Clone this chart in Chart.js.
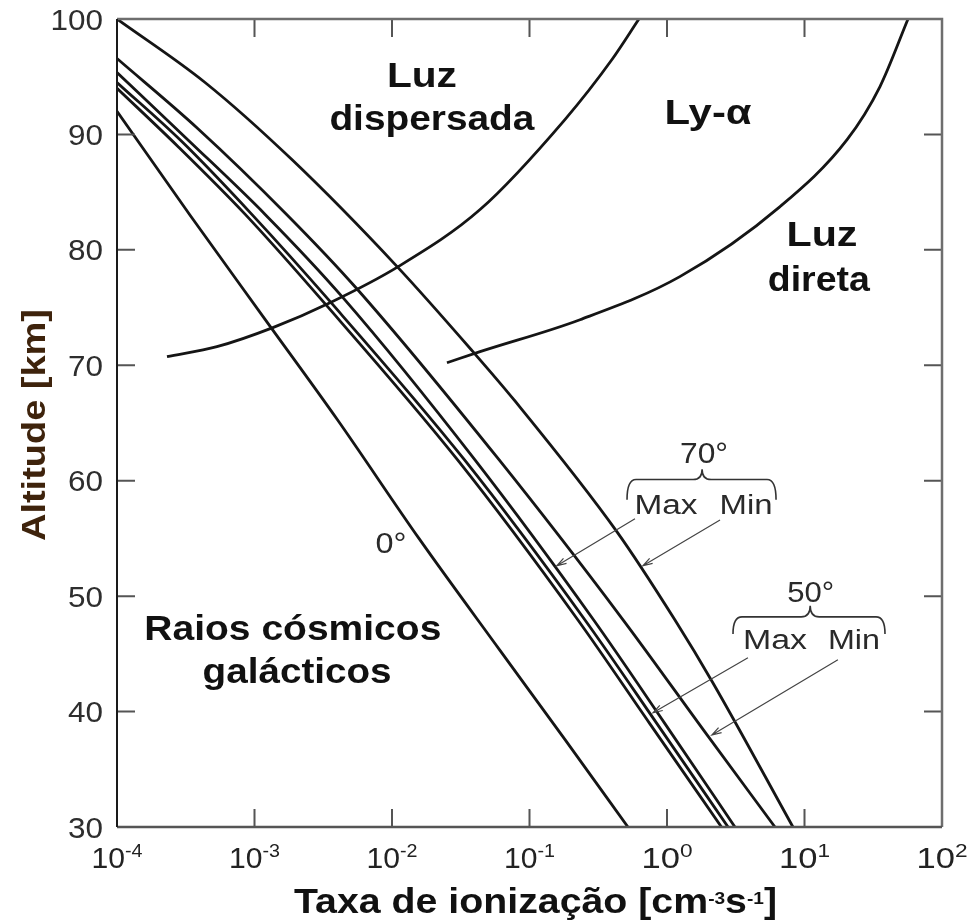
<!DOCTYPE html>
<html>
<head>
<meta charset="utf-8">
<script src="https://cdn.jsdelivr.net/npm/chart.js@4.4.0/dist/chart.umd.min.js"></script>
<style>
  html, body { margin: 0; padding: 0; background: #fff; }
  canvas { display: block; }
</style>
</head>
<body>
<canvas id="chart" width="973" height="924"></canvas>
<script>
// ticks
const xTicks = [1e-4, 1e-3, 1e-2, 1e-1, 1, 10, 100];
const xTickExp = ["-4", "-3", "-2", "-1", "0", "1", "2"];
const yTicks = [30, 40, 50, 60, 70, 80, 90, 100];

// galactic cosmic rays, 0 deg
const gcr0Alt  = [92.0, 83.0, 74.0, 65.3, 55.0, 45.3, 37.5, 30.0];
const gcr0Rate = [1.0e-4, 3.4e-4, 1.19e-3, 4.0e-3, 1.57e-2, 6.1e-2, 0.183, 0.52];

// close double pair
const gcrAAlt  = [94.0, 89.0, 83.05, 75.4, 61.8, 48.0, 39.0, 30.0];
const gcrARate = [1.0e-4, 2.75e-4, 8.6e-4, 3.22e-3, 3.0e-2, 0.223, 0.745, 2.49];
const gcrBAlt  = [94.5, 89.4, 83.05, 75.4, 61.8, 48.0, 39.0, 30.0];
const gcrBRate = [1.0e-4, 2.95e-4, 9.6e-4, 3.62e-3, 3.37e-2, 0.251, 0.84, 2.78];

const gcrCAlt  = [95.36, 89.5, 83.05, 75.86, 61.82, 47.95, 39.0, 30.0];
const gcrCRate = [1.0e-4, 3.3e-4, 1.2e-3, 4.4e-3, 4.0e-2, 0.292, 0.96, 3.12];

const gcrDAlt  = [96.58, 90.5, 83.05, 76.72, 61.82, 47.95, 38.0, 30.0];
const gcrDRate = [1.0e-4, 3.88e-4, 1.72e-3, 5.47e-3, 6.0e-2, 0.479, 1.95, 6.1];

const gcrEAlt  = [100, 94.5, 87.82, 78.55, 71.18, 67.02, 55.57, 47.95, 42.48, 30.0];
const gcrERate = [1.0e-4, 4.37e-4, 1.87e-3, 1.09e-2, 3.88e-2, 7.7e-2, 0.433, 1.14, 2.16, 8.24];

// scattered light (Luz dispersada / Ly-alpha boundary)
const scatAlt  = [70.74, 71.61, 73.26, 75.42, 78.55, 83.49, 91.29, 96.49, 100];
const scatRate = [2.31e-4, 5.33e-4, 1.36e-3, 3.54e-3, 1.11e-2, 4.37e-2, 0.181, 0.398, 0.625];

// direct light (Ly-alpha / Luz direta boundary)
const dirAlt  = [70.22, 71.18, 73.95, 77.68, 83.75, 89.55, 94.15, 100];
const dirRate = [2.51e-2, 4.37e-2, 0.233, 1.24, 6.64, 20.4, 35.4, 56.6];

const curves = [
  [gcr0Alt, gcr0Rate], [gcrAAlt, gcrARate], [gcrBAlt, gcrBRate],
  [gcrCAlt, gcrCRate], [gcrDAlt, gcrDRate], [gcrEAlt, gcrERate],
  [scatAlt, scatRate], [dirAlt, dirRate]
];

const FONT = "'Liberation Sans', Arial, Helvetica, sans-serif";

// annotations (rate, altitude)
const notes = [
  { t: "Luz", x: 0.0165, y: 94.1, bold: true, size: 35, w: 70 },
  { t: "dispersada", x: 0.0195, y: 90.4, bold: true, size: 35, w: 205 },
  { t: "Ly-\u03b1", x: 1.99, y: 90.9, bold: true, size: 35, w: 87 },
  { t: "Luz", x: 13.4, y: 80.3, bold: true, size: 35, w: 71 },
  { t: "direta", x: 12.7, y: 76.4, bold: true, size: 35, w: 102 },
  { t: "Raios cósmicos", x: 1.9e-3, y: 46.2, bold: true, size: 35, w: 297 },
  { t: "galácticos", x: 2.04e-3, y: 42.5, bold: true, size: 35, w: 189 },
  { t: "0°", x: 9.84e-3, y: 53.75, size: 29, w: 31 },
  { t: "70°", x: 1.86, y: 61.5, size: 29, w: 48 },
  { t: "Max", x: 0.984, y: 57.1, size: 27, w: 63 },
  { t: "Min", x: 3.76, y: 57.1, size: 27, w: 53 },
  { t: "50°", x: 11.1, y: 49.5, size: 29, w: 47 },
  { t: "Max", x: 6.1, y: 45.4, size: 27, w: 64 },
  { t: "Min", x: 22.9, y: 45.4, size: 27, w: 52 }
];
const braces = [
  { xl: 0.512, xc: 1.80, xr: 6.21, yTop: 60.1, yEnd: 58.35, yPeak: 61.0 },
  { xl: 3.02, xc: 11.0, xr: 38.5, yTop: 48.2, yEnd: 46.73, yPeak: 49.16 }
];
const arrows = [
  { x0: 0.585, y0: 56.7, x1: 0.158, y1: 52.63 },
  { x0: 2.43, y0: 56.6, x1: 0.668, y1: 52.63 },
  { x0: 3.88, y0: 44.66, x1: 0.791, y1: 39.9 },
  { x0: 17.5, y0: 44.49, x1: 2.12, y1: 37.97 }
];

function txt(ctx, s, x, y, size, bold, color, w, align) {
  ctx.save();
  ctx.font = (bold ? "bold " : "") + size + "px " + FONT;
  ctx.fillStyle = color;
  ctx.textAlign = align || "center";
  ctx.textBaseline = "alphabetic";
  let sx = w ? w / ctx.measureText(s).width : 1;
  ctx.translate(x, y);
  ctx.scale(sx, 1);
  ctx.fillText(s, 0, 0);
  ctx.restore();
}

// text with superscripts, centred at x
function richTxt(ctx, parts, x, y, size, supSize, rise, bold, color, w) {
  ctx.save();
  const f = s => (bold ? "bold " : "") + s + "px " + FONT;
  let total = 0;
  parts.forEach(p => {
    ctx.font = f(p.sup ? supSize : size);
    p.w = ctx.measureText(p.t).width;
    total += p.w;
  });
  let sx = w ? w / total : 1;
  ctx.translate(x, y);
  ctx.scale(sx, 1);
  ctx.fillStyle = color;
  ctx.textAlign = "left";
  ctx.textBaseline = "alphabetic";
  let cx = -total / 2;
  parts.forEach(p => {
    ctx.font = f(p.sup ? supSize : size);
    ctx.fillText(p.t, cx, p.sup ? -rise : 0);
    cx += p.w;
  });
  ctx.restore();
}

const framePlugin = {
  id: "frame",
  afterDraw(chart) {
    const ctx = chart.ctx;
    const a = chart.chartArea;
    const xs = chart.scales.x, ys = chart.scales.y;
    const px = v => xs.getPixelForValue(v);
    const py = v => ys.getPixelForValue(v);

    ctx.save();
    // inward ticks
    ctx.strokeStyle = "#555";
    ctx.lineWidth = 2;
    ctx.beginPath();
    xTicks.slice(1, -1).forEach(v => {
      const x = px(v);
      ctx.moveTo(x, a.bottom); ctx.lineTo(x, a.bottom - 18);
      ctx.moveTo(x, a.top); ctx.lineTo(x, a.top + 18);
    });
    yTicks.slice(1, -1).forEach(v => {
      const y = py(v);
      ctx.moveTo(a.left, y); ctx.lineTo(a.left + 18, y);
      ctx.moveTo(a.right, y); ctx.lineTo(a.right - 18, y);
    });
    ctx.stroke();

    // frame
    ctx.lineWidth = 2.5;
    ctx.strokeStyle = "#6e6e6e";
    ctx.beginPath();
    ctx.moveTo(a.left, a.top); ctx.lineTo(a.right, a.top); ctx.lineTo(a.right, a.bottom);
    ctx.stroke();
    ctx.strokeStyle = "#555";
    ctx.beginPath();
    ctx.moveTo(a.left, a.bottom); ctx.lineTo(a.right, a.bottom);
    ctx.stroke();
    ctx.lineWidth = 2;
    ctx.strokeStyle = "#1a1a1a";
    ctx.beginPath();
    ctx.moveTo(a.left, a.top); ctx.lineTo(a.left, a.bottom);
    ctx.stroke();

    // y tick labels
    yTicks.forEach(v => {
      const s = String(v);
      txt(ctx, s, a.left - 14, py(v) + 10.5, 29, false, "#2e2e2e", s.length * 17.5, "right");
    });

    // x tick labels 10^n
    xTicks.forEach((v, i) => {
      richTxt(ctx, [{ t: "10" }, { t: xTickExp[i], sup: true }], px(v), a.bottom + 41, 29, 19, 11, false, "#222", 51);
    });

    // axis titles
    richTxt(ctx, [{ t: "Taxa de ionização [cm" }, { t: "-3", sup: true }, { t: "s" }, { t: "-1", sup: true }, { t: "]" }],
      (a.left + a.right) / 2 + 6, a.bottom + 86, 35, 17, 9, true, "#111", 483);
    ctx.save();
    ctx.translate(45, (a.top + a.bottom) / 2 + 2);
    ctx.rotate(-Math.PI / 2);
    txt(ctx, "Altitude [km]", 0, 0, 34, true, "#3e230c", 232);
    ctx.restore();

    // labels
    notes.forEach(n => txt(ctx, n.t, px(n.x), py(n.y), n.size, n.bold, n.bold ? "#111" : "#2a2a2a", n.w));

    // braces
    ctx.strokeStyle = "#333";
    ctx.lineWidth = 1.6;
    braces.forEach(b => {
      const xl = px(b.xl), xc = px(b.xc), xr = px(b.xr);
      const yt = py(b.yTop), ye = py(b.yEnd), yp = py(b.yPeak);
      ctx.beginPath();
      ctx.moveTo(xl, ye);
      ctx.quadraticCurveTo(xl, yt, xl + 9, yt);
      ctx.lineTo(xc - 9, yt);
      ctx.quadraticCurveTo(xc, yt, xc, yp);
      ctx.quadraticCurveTo(xc, yt, xc + 9, yt);
      ctx.lineTo(xr - 9, yt);
      ctx.quadraticCurveTo(xr, yt, xr, ye);
      ctx.stroke();
    });

    // arrows
    ctx.strokeStyle = "#444";
    ctx.lineWidth = 1.2;
    arrows.forEach(r => {
      const x0 = px(r.x0), y0 = py(r.y0), x1 = px(r.x1), y1 = py(r.y1);
      const ang = Math.atan2(y1 - y0, x1 - x0);
      ctx.beginPath();
      ctx.moveTo(x0, y0); ctx.lineTo(x1, y1);
      ctx.moveTo(x1 - 10 * Math.cos(ang - 0.3), y1 - 10 * Math.sin(ang - 0.3));
      ctx.lineTo(x1, y1);
      ctx.lineTo(x1 - 10 * Math.cos(ang + 0.3), y1 - 10 * Math.sin(ang + 0.3));
      ctx.stroke();
    });
    ctx.restore();
  }
};

new Chart(document.getElementById("chart"), {
  type: "scatter",
  data: {
    datasets: curves.map(c => ({
      data: c[0].map((alt, i) => ({ x: c[1][i], y: alt })),
      showLine: true,
      borderColor: "#151515",
      borderWidth: 2.8,
      pointRadius: 0,
      cubicInterpolationMode: "monotone",
      fill: false
    }))
  },
  options: {
    responsive: false,
    animation: false,
    devicePixelRatio: 1,
    layout: { autoPadding: false, padding: { left: 0, top: 19, right: 31, bottom: 0 } },
    plugins: { legend: { display: false }, tooltip: { enabled: false } },
    scales: {
      x: {
        type: "logarithmic",
        min: 1e-4,
        max: 100,
        afterBuildTicks: s => { s.ticks = xTicks.map(v => ({ value: v })); },
        afterFit: s => { s.height = 97; },
        ticks: { display: false },
        grid: { display: false, drawTicks: false },
        border: { display: false }
      },
      y: {
        type: "linear",
        min: 30,
        max: 100,
        afterBuildTicks: s => { s.ticks = yTicks.map(v => ({ value: v })); },
        afterFit: s => { s.width = 117; },
        ticks: { display: false },
        grid: { display: false, drawTicks: false },
        border: { display: false }
      }
    }
  },
  plugins: [framePlugin]
});
</script>
</body>
</html>
